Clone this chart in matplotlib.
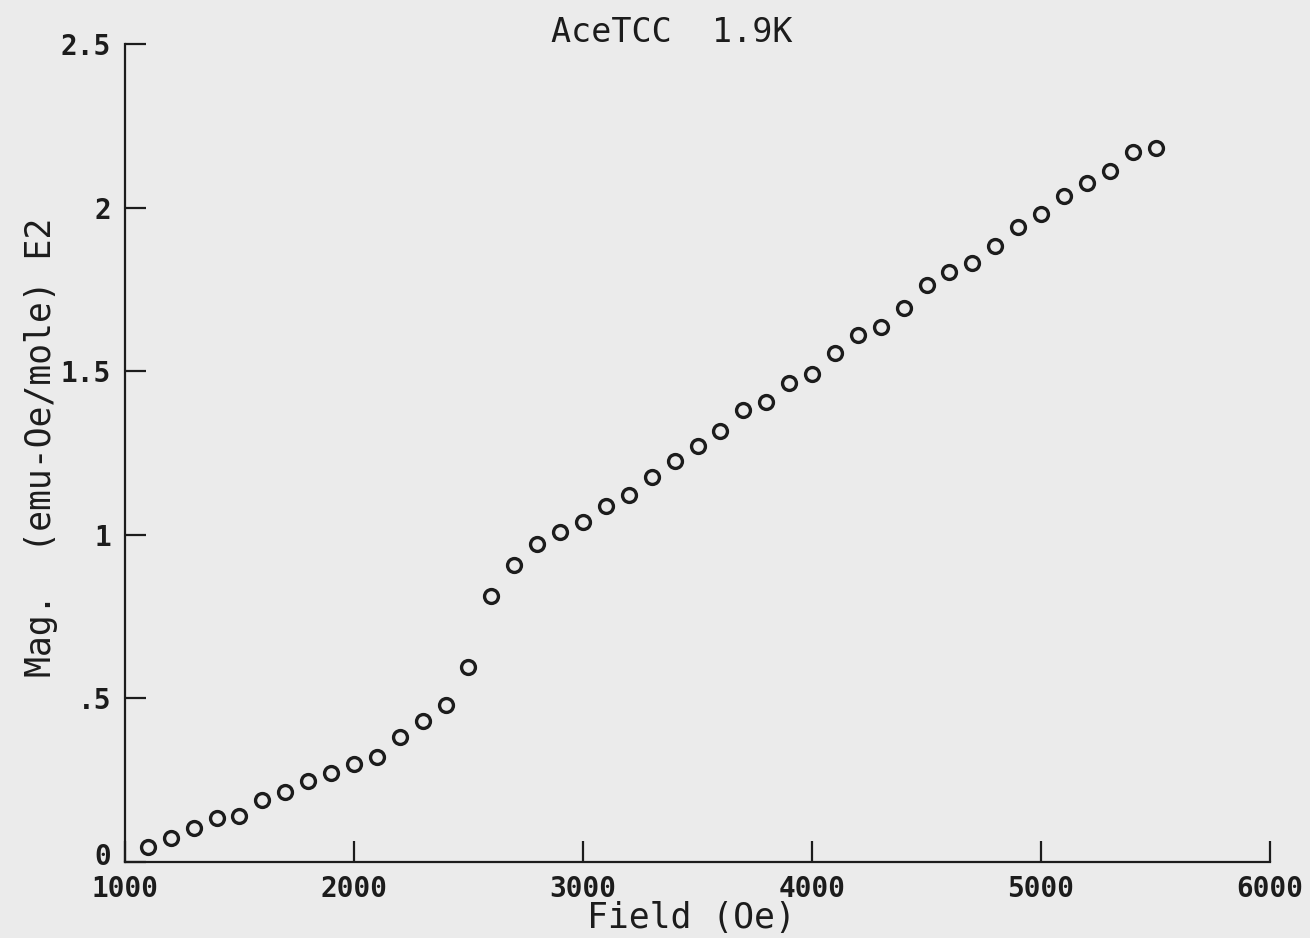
import matplotlib.pyplot as plt
import matplotlib.transforms as mtransforms
import numpy as np

# Field (Oe) and magnetization (emu-Oe/mole, x1E2)
field = [1100, 1200, 1300, 1400, 1500, 1600, 1700, 1800, 1900, 2000,
         2100, 2200, 2300, 2400, 2500, 2600, 2700, 2800, 2900, 3000,
         3100, 3200, 3300, 3400, 3500, 3600, 3700, 3800, 3900, 4000,
         4100, 4200, 4300, 4400, 4500, 4600, 4700, 4800, 4900, 5000,
         5100, 5200, 5300, 5400, 5500]
mag = [0.045, 0.073, 0.104, 0.134, 0.141, 0.190, 0.214, 0.247, 0.272, 0.299,
       0.321, 0.382, 0.431, 0.480, 0.597, 0.813, 0.908, 0.972, 1.009, 1.039,
       1.088, 1.122, 1.177, 1.225, 1.271, 1.317, 1.381, 1.406, 1.464, 1.491,
       1.556, 1.611, 1.635, 1.693, 1.763, 1.803, 1.831, 1.883, 1.941, 1.980,
       2.035, 2.075, 2.112, 2.170, 2.182]

xticks = [1000, 2000, 3000, 4000, 5000, 6000]
yticks = [0, 0.5, 1, 1.5, 2, 2.5]
ytick_labels = ['0', '.5', '1', '1.5', '2', '2.5']

bg = '#ebebeb'
ink = '#1c1c1c'
plt.rcParams['font.family'] = ['DejaVu Sans Mono']

fig = plt.figure(figsize=(13.1, 9.38), dpi=100, facecolor=bg)
ax = fig.add_axes([0.0954, 0.081, 0.8741, 0.872])
ax.set_facecolor(bg)

ax.plot(field, mag, linestyle='none', marker='o', markersize=10,
        markerfacecolor='none', markeredgecolor=ink, markeredgewidth=2.4)

ax.set_xlim(1000, 6000)
ax.set_ylim(0, 2.5)
ax.set_xticks(xticks)
ax.set_yticks(yticks)
ax.set_yticklabels(ytick_labels)

for s in ['top', 'right']:
    ax.spines[s].set_visible(False)
for s in ['left', 'bottom']:
    ax.spines[s].set_color(ink)
    ax.spines[s].set_linewidth(1.6)

ax.tick_params(axis='both', direction='in', length=15, width=1.6, color=ink,
               labelcolor=ink, labelsize=20)
ax.tick_params(axis='x', pad=9)
ax.tick_params(axis='y', pad=10)
for lab in ax.get_xticklabels() + ax.get_yticklabels():
    lab.set_fontweight('bold')

# lift the "0" a bit so it does not sit on top of "1000"
zero_lab = ax.get_yticklabels()[0]
zero_lab.set_transform(zero_lab.get_transform() +
                       mtransforms.ScaledTranslation(0, 8 / 100, fig.dpi_scale_trans))

fig.text(0.513, 0.965, 'AceTCC  1.9K', ha='center', va='center',
         fontsize=24, color=ink)
fig.text(0.528, 0.021, 'Field (Oe)', ha='center', va='center',
         fontsize=25, color=ink)
fig.text(0.031, 0.523, 'Mag.  (emu-Oe/mole) E2', ha='center', va='center',
         rotation=90, fontsize=25, color=ink)

fig.savefig('out.png', dpi=100, facecolor=bg)
